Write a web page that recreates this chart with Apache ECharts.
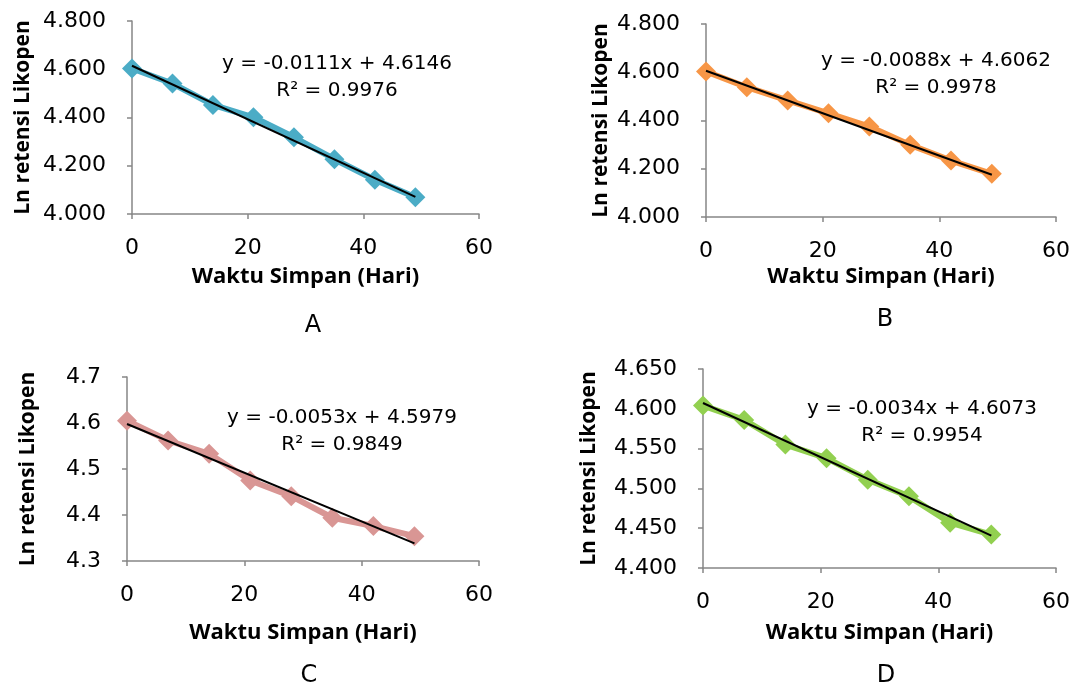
<!DOCTYPE html>
<html>
<head>
<meta charset="utf-8">
<title>Ln retensi Likopen</title>
<script src="https://cdn.jsdelivr.net/npm/echarts@6/dist/echarts.min.js"></script>
<style>
  html, body { margin: 0; padding: 0; background: #fff; }
  #chart { width: 1073px; height: 686px; }
</style>
</head>
<body>
<div id="chart"></div>
<script>
// hari penyimpanan
const days = [0, 7, 14, 21, 28, 35, 42, 49];

// ln retensi likopen per perlakuan
const valuesA = [4.603, 4.541, 4.452, 4.401, 4.318, 4.227, 4.142, 4.069];
const valuesB = [4.603, 4.538, 4.483, 4.430, 4.375, 4.299, 4.234, 4.179];
const valuesC = [4.605, 4.562, 4.533, 4.475, 4.441, 4.394, 4.376, 4.354];
const valuesD = [4.604, 4.586, 4.555, 4.538, 4.511, 4.490, 4.457, 4.442];

// ujung garis tren (hari 0 dan 49)
const trendDays = [0, 49];
const trendA = [4.6146, 4.0707];
const trendB = [4.6062, 4.1750];
const trendC = [4.5979, 4.3382];
const trendD = [4.6073, 4.4407];

const equations = ['y = -0.0111x + 4.6146', 'y = -0.0088x + 4.6062', 'y = -0.0053x + 4.5979', 'y = -0.0034x + 4.6073'];
const rSquared = ['R² = 0.9976', 'R² = 0.9978', 'R² = 0.9849', 'R² = 0.9954'];
const panelLabels = ['A', 'B', 'C', 'D'];

const yMin = [4.0, 4.0, 4.3, 4.4];
const yMax = [4.8, 4.8, 4.7, 4.65];
const yStep = [0.2, 0.2, 0.1, 0.05];
const yDecimals = [3, 3, 1, 3];

const colors = ['#4bacc6', '#f79646', '#d99694', '#92d050'];

const panels = [
  { values: valuesA, trend: trendA, grid: { left: 132, top: 21, width: 347, height: 193 }, eq: [337, 77], letter: [313, 326], xGap: 52, yGap: 98 },
  { values: valuesB, trend: trendB, grid: { left: 706, top: 24, width: 350, height: 193 }, eq: [936, 74], letter: [885, 320], xGap: 49, yGap: 94 },
  { values: valuesC, trend: trendC, grid: { left: 127, top: 377, width: 352, height: 184 }, eq: [342, 431], letter: [309, 676], xGap: 61, yGap: 88 },
  { values: valuesD, trend: trendD, grid: { left: 703, top: 369, width: 353, height: 199 }, eq: [922, 422], letter: [886, 676], xGap: 54, yGap: 103 }
];

const axisColor = '#868686';
const numFont = 'DejaVu Sans';
const boldFont = 'Open Sans';

let grids = [], xAxes = [], yAxes = [], series = [], texts = [];

panels.forEach((p, i) => {
  grids.push(p.grid);

  xAxes.push({
    type: 'value', gridIndex: i, min: 0, max: 60, interval: 20,
    name: 'Waktu Simpan (Hari)', nameLocation: 'middle', nameGap: p.xGap,
    nameTextStyle: { fontFamily: boldFont, fontWeight: 'bold', fontSize: 22, color: '#000' },
    axisLine: { lineStyle: { color: axisColor, width: 1.5 } },
    axisTick: { show: true, length: 5, lineStyle: { color: axisColor, width: 1.5 } },
    axisLabel: { fontFamily: numFont, fontSize: 22, color: '#000', margin: 23 },
    splitLine: { show: false }
  });

  yAxes.push({
    type: 'value', gridIndex: i, min: yMin[i], max: yMax[i], interval: yStep[i],
    name: 'Ln retensi Likopen', nameLocation: 'middle', nameGap: p.yGap,
    nameTextStyle: { fontFamily: boldFont, fontWeight: 'bold', fontSize: 21, color: '#000' },
    axisLine: { show: true, lineStyle: { color: axisColor, width: 1.5 } },
    axisTick: { show: true, length: 5, lineStyle: { color: axisColor, width: 1.5 } },
    axisLabel: {
      fontFamily: numFont, fontSize: 22, color: '#000', margin: 26,
      formatter: v => v.toFixed(yDecimals[i])
    },
    splitLine: { show: false }
  });

  series.push({
    type: 'line', xAxisIndex: i, yAxisIndex: i,
    data: days.map((d, k) => [d, p.values[k]]),
    symbol: 'diamond', symbolSize: 20,
    lineStyle: { color: colors[i], width: 6 },
    itemStyle: { color: colors[i] },
    z: 2, animation: false
  });

  series.push({
    type: 'line', xAxisIndex: i, yAxisIndex: i,
    data: trendDays.map((d, k) => [d, p.trend[k]]),
    symbol: 'none',
    lineStyle: { color: '#000', width: 2 },
    z: 3, animation: false
  });

  texts.push({
    type: 'text', x: p.eq[0], y: p.eq[1],
    style: {
      text: equations[i] + '\n' + rSquared[i], fill: '#000',
      font: '20px "' + numFont + '"', lineHeight: 27,
      align: 'center', verticalAlign: 'middle'
    },
    z: 10
  });
  texts.push({
    type: 'text', x: p.letter[0], y: p.letter[1],
    style: {
      text: panelLabels[i], fill: '#000',
      font: '24px "' + numFont + '"',
      align: 'center', verticalAlign: 'middle'
    },
    z: 10
  });
});

const chart = echarts.init(document.getElementById('chart'));
chart.setOption({
  backgroundColor: '#fff',
  animation: false,
  grid: grids,
  xAxis: xAxes,
  yAxis: yAxes,
  series: series,
  graphic: texts
});
</script>
</body>
</html>
